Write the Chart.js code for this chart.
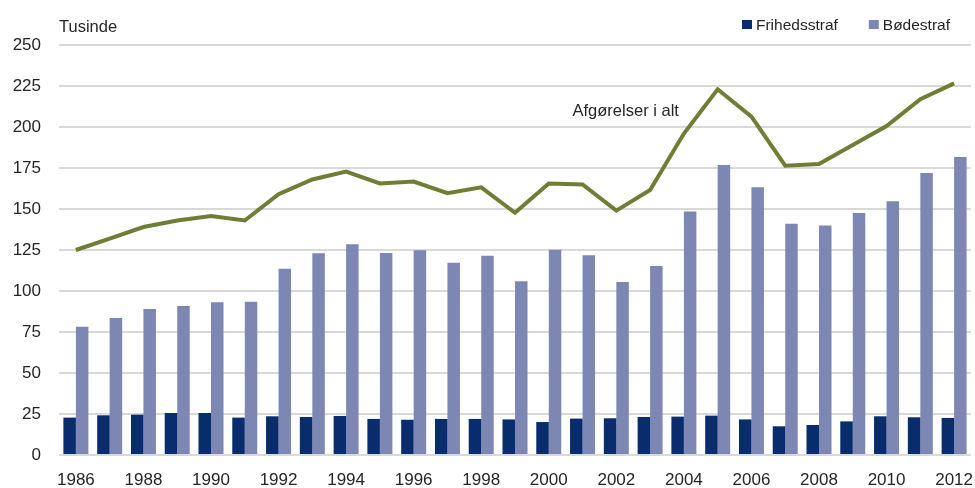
<!DOCTYPE html>
<html>
<head>
<meta charset="utf-8">
<script src="https://cdn.jsdelivr.net/npm/chart.js@4"></script>
<style>
  html, body { margin: 0; padding: 0; background: #fff; }
  #wrap { width: 975px; height: 488px; position: relative; }
</style>
</head>
<body>
<div id="wrap"><canvas id="grafico"></canvas></div>
<script>
// ========== DATA ==========
const aar = ['1986','1987','1988','1989','1990','1991','1992','1993','1994','1995','1996','1997','1998','1999',
             '2000','2001','2002','2003','2004','2005','2006','2007','2008','2009','2010','2011','2012'];
const frihedsstraf = [22.8, 24.2, 24.6, 25.6, 25.6, 22.8, 23.6, 23.2, 23.8, 22.0, 21.5, 22.0, 22.0, 21.7,
                      20.1, 22.2, 22.4, 23.2, 23.4, 24.0, 21.7, 17.5, 18.3, 20.5, 23.6, 23.0, 22.6];
const boedestraf = [78.2, 83.5, 89.0, 90.9, 93.1, 93.5, 113.6, 123.0, 128.5, 123.2, 124.8, 117.3, 121.5, 105.9,
                    125.2, 121.8, 105.5, 115.2, 148.4, 176.8, 163.2, 141.0, 140.0, 147.6, 154.7, 172.0, 181.7];
const afgoerelser = [125, 132, 139, 143, 145.7, 143, 159, 168, 172.8, 165.6, 166.7, 159.6, 163.2, 147.7,
                     165.6, 165, 149, 161.6, 196, 223, 206.3, 176.4, 177.4, 189, 200.6, 217, 226.6];
const yTicks = [0, 25, 50, 75, 100, 125, 150, 175, 200, 225, 250];

const tekstFarve = '#262626';
const fontNavn = '"Liberation Sans", Arial, sans-serif';

// ========== TEKSTER OG FORKLARING ==========
const tekstPlugin = {
    id: 'tekster',
    afterDraw(chart) {
        const ctx = chart.ctx;
        const area = chart.chartArea;
        const x = chart.scales.x;
        const y = chart.scales.y;
        ctx.save();
        ctx.fillStyle = tekstFarve;
        ctx.textBaseline = 'alphabetic';

        ctx.font = '16.5px ' + fontNavn;
        ctx.textAlign = 'left';
        ctx.fillText('Tusinde', area.left, area.top - 13.5);

        ctx.textAlign = 'right';
        ctx.fillText('Afgørelser i alt', x.getPixelForValue(aar.indexOf('2004')) - 5, y.getPixelForValue(206.7));

        // forklaring (kun søjlerne)
        ctx.font = '15.5px ' + fontNavn;
        const poster = chart.data.datasets.filter(d => d.type !== 'line');
        const bredder = poster.map(d => 10 + 4 + ctx.measureText(d.label).width);
        let px = chart.width - 25 - bredder.reduce((a, b) => a + b, 0) - 31 * (poster.length - 1);
        const baseline = area.top - 15;
        ctx.textAlign = 'left';
        poster.forEach((d, i) => {
            ctx.fillStyle = d.backgroundColor;
            ctx.fillRect(px, baseline - 10, 10, 9);
            ctx.fillStyle = tekstFarve;
            ctx.fillText(d.label, px + 14, baseline);
            px += bredder[i] + 31;
        });
        ctx.restore();
    }
};

const ctx = document.getElementById('grafico').getContext('2d');
const grafik = new Chart(ctx, {
    type: 'bar',
    data: {
        labels: aar,
        datasets: [
            {
                type: 'line',
                label: 'Afgørelser i alt',
                data: afgoerelser,
                borderColor: '#6f7e35',
                borderWidth: 4,
                pointRadius: 0,
                tension: 0,
                fill: false,
                order: 0
            },
            {
                label: 'Frihedsstraf',
                data: frihedsstraf,
                backgroundColor: '#082c6c',
                categoryPercentage: 0.74,
                barPercentage: 1.0,
                order: 1
            },
            {
                label: 'Bødestraf',
                data: boedestraf,
                backgroundColor: '#7c87b4',
                categoryPercentage: 0.74,
                barPercentage: 1.0,
                order: 1
            }
        ]
    },
    options: {
        responsive: true,
        maintainAspectRatio: false,
        animation: false,
        layout: { padding: { top: 45, right: 4, left: 0, bottom: 0 } },
        plugins: {
            legend: { display: false },
            tooltip: { enabled: false },
            title: { display: false }
        },
        scales: {
            x: {
                grid: { display: false },
                border: { display: false },
                afterFit: (s) => { s.height = 33; s.paddingLeft = 0; s.paddingRight = 0; },
                ticks: {
                    autoSkip: false,
                    maxRotation: 0,
                    minRotation: 0,
                    padding: 7,
                    color: tekstFarve,
                    font: { size: 17, family: fontNavn },
                    callback: (v, i) => (i % 2 === 0 ? aar[i] : '')
                }
            },
            y: {
                min: 0,
                max: 250,
                afterFit: (s) => { s.width = 59; s.paddingTop = 0; s.paddingBottom = 0; },
                afterBuildTicks: (s) => { s.ticks = yTicks.map(v => ({ value: v })); },
                grid: { color: '#d9d9d9', lineWidth: 2, drawTicks: false },
                border: { display: false },
                ticks: {
                    padding: 18,
                    color: tekstFarve,
                    font: { size: 17, family: fontNavn }
                }
            }
        }
    },
    plugins: [tekstPlugin]
});
</script>
</body>
</html>
